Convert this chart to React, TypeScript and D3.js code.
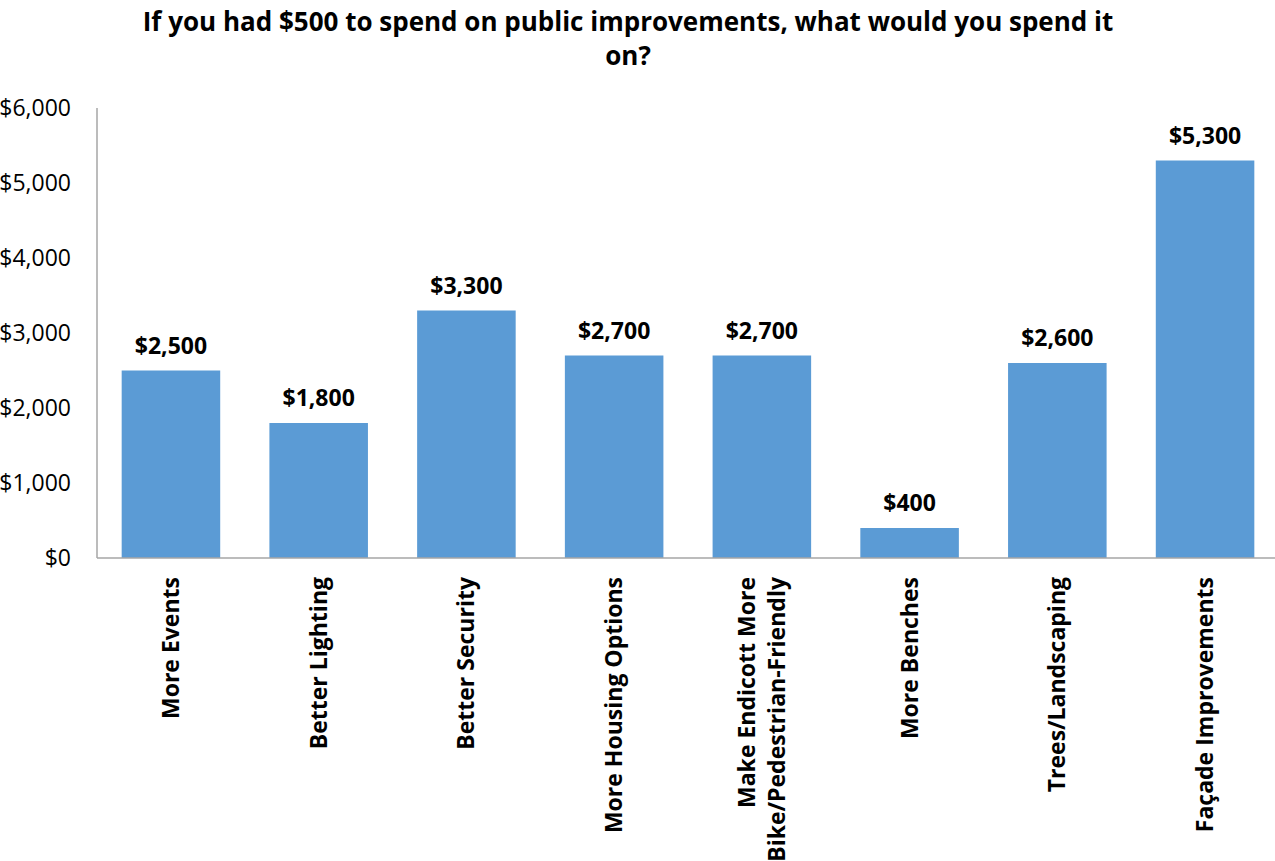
import React, { useRef, useEffect } from 'react';
import * as d3 from 'd3';

const categories = [
    ['More Events'],
    ['Better Lighting'],
    ['Better Security'],
    ['More Housing Options'],
    ['Make Endicott More', 'Bike/Pedestrian-Friendly'],
    ['More Benches'],
    ['Trees/Landscaping'],
    ['Façade Improvements'],
];
const values = [2500, 1800, 3300, 2700, 2700, 400, 2600, 5300];
const yTicks = [0, 1000, 2000, 3000, 4000, 5000, 6000];
const titleLines = ['If you had $500 to spend on public improvements, what would you spend it', 'on?'];

const App: React.FC = () => {
    const svgRef = useRef<SVGSVGElement | null>(null);
    const width = 1275;
    const height = 861;
    const font = 'Open Sans, sans-serif';

    useEffect(() => {
        if (!svgRef.current) return;
        const svg = d3.select(svgRef.current);
        svg.selectAll('*').remove();

        const keys = categories.map(c => c.join(' '));
        const x = d3.scaleBand()
            .domain(keys)
            .range([97, 1279])
            .paddingInner(0.333)
            .paddingOuter(0.167);
        const y = d3.scaleLinear().domain([0, 6000]).range([558, 108]);

        svg.append('rect').attr('width', width).attr('height', height).attr('fill', '#fff');

        // title
        svg.append('text')
            .attr('text-anchor', 'middle')
            .attr('font-family', font)
            .attr('font-weight', 'bold')
            .attr('font-size', 26)
            .selectAll('tspan')
            .data(titleLines)
            .join('tspan')
            .attr('x', 628)
            .attr('y', (d, i) => 31 + i * 34)
            .text(d => d);

        // bars
        svg.append('g')
            .selectAll('rect')
            .data(values)
            .join('rect')
            .attr('x', (d, i) => x(keys[i])!)
            .attr('y', d => y(d))
            .attr('width', x.bandwidth())
            .attr('height', d => y(0) - y(d))
            .attr('fill', '#5B9BD5');

        // axes
        const axisColor = '#a6a6a6';
        svg.append('line')
            .attr('x1', 97).attr('x2', 97)
            .attr('y1', y(6000)).attr('y2', y(0))
            .attr('stroke', axisColor).attr('stroke-width', 1.5);
        svg.append('line')
            .attr('x1', 97).attr('x2', width)
            .attr('y1', y(0)).attr('y2', y(0))
            .attr('stroke', axisColor).attr('stroke-width', 1.5);

        svg.append('g')
            .selectAll('text')
            .data(yTicks)
            .join('text')
            .attr('x', 71)
            .attr('y', d => y(d))
            .attr('dy', '0.35em')
            .attr('text-anchor', 'end')
            .attr('font-family', font)
            .attr('font-size', 23)
            .attr('fill', '#000')
            .text(d => d3.format('$,')(d));

        // value labels
        svg.append('g')
            .selectAll('text')
            .data(values)
            .join('text')
            .attr('x', (d, i) => x(keys[i])! + x.bandwidth() / 2)
            .attr('y', d => y(d) - 17)
            .attr('text-anchor', 'middle')
            .attr('font-family', font)
            .attr('font-weight', 'bold')
            .attr('font-size', 23)
            .text(d => d3.format('$,')(d));

        // category labels
        const cat = svg.append('g')
            .selectAll('text')
            .data(categories)
            .join('text')
            .attr('transform', (d, i) => `translate(${x(keys[i])! + x.bandwidth() / 2},577) rotate(-90)`)
            .attr('text-anchor', 'end')
            .attr('font-family', font)
            .attr('font-weight', 'bold')
            .attr('font-size', 23);
        cat.selectAll('tspan')
            .data(d => d.map((line, j) => ({ line, j, n: d.length })))
            .join('tspan')
            .attr('x', 0)
            .attr('y', d => (d.j - (d.n - 1) / 2) * 30)
            .attr('dy', '0.35em')
            .text(d => d.line);
    }, []);

    return (
        <svg ref={svgRef} width={width} height={height}
            style={{ position: 'absolute', left: 0, top: 0 }} />
    );
};

export default App;
